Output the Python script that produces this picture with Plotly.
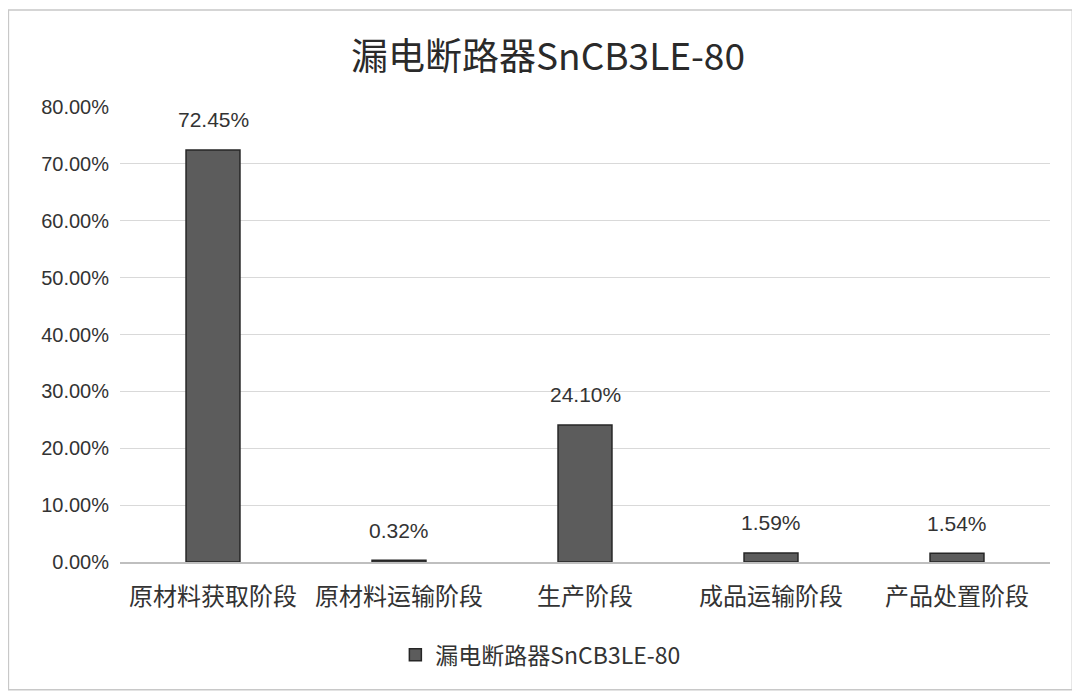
import plotly.graph_objects as go

categories = ["原材料获取阶段", "原材料运输阶段", "生产阶段", "成品运输阶段", "产品处置阶段"]
values = [72.45, 0.32, 24.10, 1.59, 1.54]
series_name = "漏电断路器SnCB3LE-80"
title_text = "漏电断路器SnCB3LE-80"

fam = "Liberation Sans, Noto Sans CJK SC, sans-serif"
cjk = "Noto Sans CJK SC, sans-serif"
frac = [v / 100 for v in values]

fig = go.Figure()
fig.add_trace(go.Bar(
    x=categories, y=frac, name=series_name,
    marker=dict(color="#5c5c5c", line=dict(color="#262626", width=1.5)),
    showlegend=True,
))
for c, v in zip(categories, values):
    fig.add_annotation(x=c, y=v / 100, text=f"{v:.2f}%", showarrow=False,
                       yshift=30, font=dict(size=21, color="#333333", family=fam))

fig.update_layout(
    width=1080, height=698,
    paper_bgcolor="white", plot_bgcolor="white",
    margin=dict(l=112, r=38, t=99, b=144),
    title=dict(text=title_text, x=0.5, xanchor="center", y=0.93, yanchor="middle",
               font=dict(size=37, color="#2a2a2a", family=cjk)),
    bargap=0.71,
    font=dict(family=fam, color="#333333"),
    legend=dict(orientation="h", x=0.452, xanchor="center", y=-0.204, yanchor="middle",
                font=dict(size=23, family=cjk, color="#333333")),
    xaxis=dict(tickfont=dict(size=24, family=cjk, color="#333333"),
               showline=True, linecolor="#bfbfbf", linewidth=1.5, ticks="",
               ticklabelstandoff=12),
    yaxis=dict(range=[0, 0.8], tickvals=[i / 10 for i in range(9)], tickformat=".2%",
               tickfont=dict(size=20, color="#333333"), gridcolor="#d9d9d9",
               zeroline=False, ticks="", ticklen=0, ticklabelstandoff=10),
    shapes=[dict(type="rect", xref="paper", yref="paper", x0=-0.12, x1=1.024, y0=-0.281, y1=1.213,
                 line=dict(color="#c8c8c8", width=1.5))],
)
fig.write_html("out.html")
